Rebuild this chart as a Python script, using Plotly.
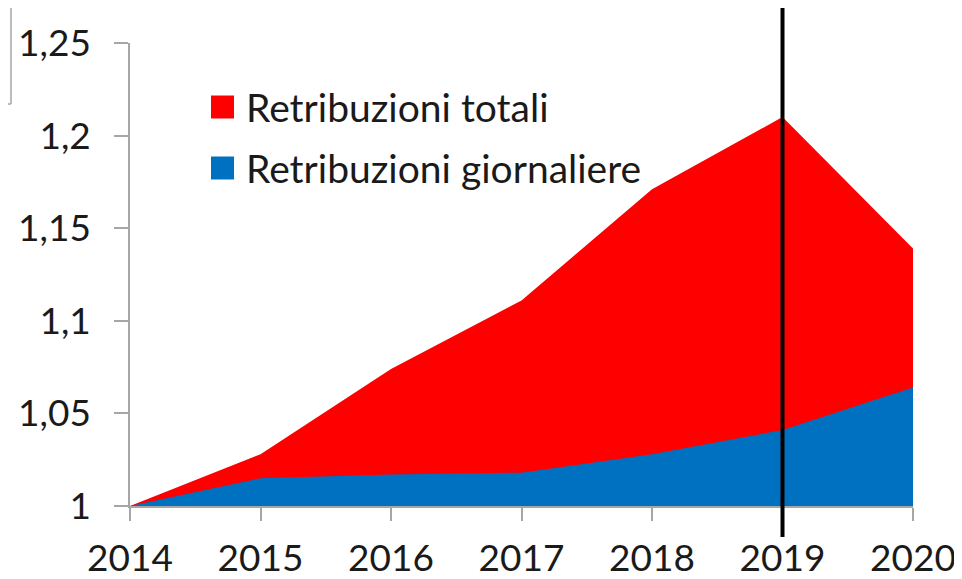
import plotly.graph_objects as go

years = [2014, 2015, 2016, 2017, 2018, 2019, 2020]
retrib_totali = [1.0, 1.028, 1.074, 1.111, 1.171, 1.210, 1.139]
retrib_giornaliere = [1.0, 1.015, 1.017, 1.018, 1.028, 1.041, 1.064]
series_names = ["Retribuzioni totali", "Retribuzioni giornaliere"]
series_colors = ["#FF0000", "#0070C0"]
y_tick_vals = [1.0, 1.05, 1.1, 1.15, 1.2, 1.25]
y_tick_text = ["1", "1,05", "1,1", "1,15", "1,2", "1,25"]
marker_year = 2019

FONT = "Lato"
GRAY = "#A6A6A6"
TXT = "#1A1A1A"

fig = go.Figure()
fig.add_trace(go.Scatter(x=years, y=retrib_totali, mode="lines", fill="tozeroy",
                         fillcolor=series_colors[0], line=dict(width=0, color=series_colors[0]),
                         name=series_names[0], showlegend=False, hoverinfo="x+y"))
fig.add_trace(go.Scatter(x=years, y=retrib_giornaliere, mode="lines", fill="tozeroy",
                         fillcolor=series_colors[1], line=dict(width=0, color=series_colors[1]),
                         name=series_names[1], showlegend=False, hoverinfo="x+y"))

W, H = 962, 579
OFF = 8  # page body margin
L, R, T, B = 122, 57, 35, 81
pw, ph = W - L - R, H - T - B

def px(xp):
    return (xp - OFF - L) / pw

def py(yp):
    return (H - B - (yp - OFF)) / ph

shapes = []
# vertical marker line
shapes.append(dict(type="line", xref="x", yref="paper", x0=marker_year, x1=marker_year,
                   y0=py(537), y1=py(8), line=dict(color="black", width=4), layer="above"))
# top-left border fragment
shapes.append(dict(type="line", xref="paper", yref="paper", x0=px(11), x1=px(11), y0=py(0), y1=py(104),
                   line=dict(color=GRAY, width=1.5)))
shapes.append(dict(type="line", xref="paper", yref="paper", x0=px(0), x1=px(11), y0=py(104), y1=py(104),
                   line=dict(color=GRAY, width=1.5)))

annotations = []
legend_rows = [(107, 0), (168, 1)]
for cy, i in legend_rows:
    shapes.append(dict(type="rect", xref="paper", yref="paper", x0=px(211), x1=px(234),
                       y0=py(cy + 11.5), y1=py(cy - 11.5), fillcolor=series_colors[i],
                       line=dict(width=0), layer="above"))
    annotations.append(dict(xref="paper", yref="paper", x=px(244), y=py(cy), text=series_names[i],
                            showarrow=False, xanchor="left", yanchor="middle",
                            font=dict(family=FONT, size=39, color=TXT)))

fig.update_layout(
    width=W, height=H,
    margin=dict(l=L, r=R, t=T, b=B, pad=0, autoexpand=False),
    paper_bgcolor="white", plot_bgcolor="white",
    showlegend=False,
    shapes=shapes, annotations=annotations,
    font=dict(family=FONT, color=TXT),
    xaxis=dict(range=[2014, 2020], tickmode="array", tickvals=years, ticktext=[str(y) for y in years],
               showgrid=False, zeroline=False, showline=True, linecolor=GRAY, linewidth=1.5,
               ticks="outside", ticklen=13, tickcolor=GRAY, tickwidth=1.5, automargin=False,
               tickfont=dict(family=FONT, size=37, color=TXT), ticklabelstandoff=6),
    yaxis=dict(range=[1, 1.25], tickmode="array", tickvals=y_tick_vals, ticktext=y_tick_text,
               showgrid=False, zeroline=False, showline=True, linecolor=GRAY, linewidth=1.5,
               ticks="outside", ticklen=14, tickcolor=GRAY, tickwidth=1.5, automargin=False,
               tickfont=dict(family=FONT, size=37, color=TXT), ticklabelstandoff=16),
)

fig.write_html("out.html")
